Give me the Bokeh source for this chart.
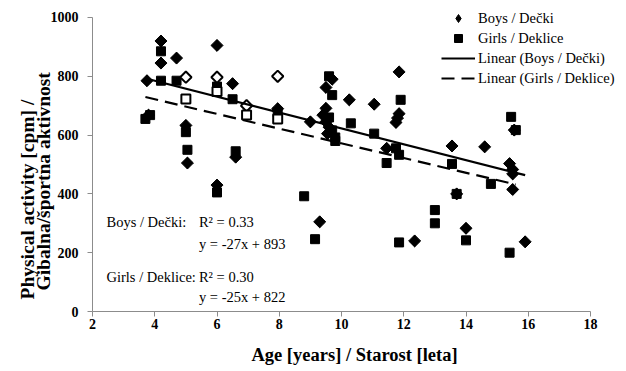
import numpy as np
from bokeh.plotting import figure
from bokeh.models import Legend, LegendItem, Label, FixedTicker, Range1d, Title
from bokeh.embed import file_html
from bokeh.resources import INLINE

# ---- data ----
boys_age = [3.75, 3.8, 4.2, 4.2, 4.7, 5.0, 5.05, 6.0, 6.0, 6.5, 6.6, 7.95, 9.0, 9.3,
            9.5, 9.7, 9.5, 9.4, 9.5, 9.6, 9.55, 10.25, 11.05, 11.45, 11.85, 11.85,
            11.8, 11.75, 12.35, 13.55, 13.7, 14.0, 14.6, 15.4, 15.5, 15.5, 15.5,
            15.9, 15.55]
boys_pa = [785, 668, 920, 845, 862, 633, 505, 905, 430, 775, 525, 690, 645, 305,
           762, 790, 691, 668, 645, 627, 605, 720, 705, 555, 815, 673,
           658, 643, 240, 563, 400, 283, 560, 503, 483, 468, 415,
           237, 617]

girls_age = [3.7, 3.85, 4.2, 4.2, 4.7, 5.0, 5.05, 6.0, 6.0, 6.5, 6.6, 7.95, 8.8, 9.15,
             9.6, 9.7, 9.6, 9.7, 9.8, 9.8, 10.3, 11.05, 11.45, 11.75, 11.9, 11.85,
             11.85, 13.0, 13.0, 13.55, 13.7, 14.0, 14.8, 15.4, 15.45, 15.6]
girls_pa = [655, 668, 885, 785, 785, 610, 550, 765, 405, 722, 545, 678, 392, 246,
            800, 736, 660, 616, 592, 580, 640, 605, 505, 555, 720, 533,
            235, 345, 300, 502, 400, 242, 434, 200, 662, 617]

other_boys_age = [5.0, 6.0, 6.95, 7.95]
other_boys_pa = [797, 797, 700, 800]
other_girls_age = [5.0, 6.0, 6.95, 7.95]
other_girls_pa = [723, 748, 668, 655]

boys_slope, boys_intercept, boys_r2 = -27, 893, 0.33
girls_slope, girls_intercept, girls_r2 = -25, 822, 0.30

x_ticks = [2, 4, 6, 8, 10, 12, 14, 16, 18]
y_ticks = [0, 200, 400, 600, 800, 1000]

FONT = "Liberation Serif"

# frame extended past the axes (axes bounded) so the legend can sit over the corner
p = figure(frame_width=524, frame_height=303,
           x_range=Range1d(2, 18.835), y_range=Range1d(0, 1030.6),
           output_backend="svg", toolbar_location=None,
           min_border_left=92, min_border_right=0, min_border_top=8, min_border_bottom=53)
p.outline_line_color = None
p.xgrid.visible = False
p.ygrid.visible = False
p.background_fill_color = "white"
p.border_fill_color = "white"

for ax, ticks in ((p.xaxis, x_ticks), (p.yaxis, y_ticks)):
    ax.ticker = FixedTicker(ticks=ticks)
    ax.bounds = (ticks[0], ticks[-1])
    ax.axis_line_color = "#8c8c8c"
    ax.major_tick_line_color = "#8c8c8c"
    ax.major_tick_in = 0
    ax.major_tick_out = 5
    ax.minor_tick_line_color = None
    ax.major_label_text_font = FONT
    ax.major_label_text_font_style = "bold"
    ax.major_label_text_font_size = "14px"
    ax.major_label_text_color = "black"
    ax.axis_label_text_font = FONT
    ax.axis_label_text_font_style = "bold"
    ax.axis_label_text_font_size = "18.5px"
    ax.axis_label_text_color = "black"

p.xaxis.axis_label = "Age [years] / Starost [leta]"
p.xaxis.major_label_standoff = 2
p.xaxis.axis_label_standoff = 13
p.yaxis.major_label_standoff = 9

# two-line y-axis title (inner line first, outer line second)
for txt, off, so in (("Gibalna/športna  aktivnost", 21, -13), ("Physical activity [cpm] /", 12, 0)):
    p.add_layout(Title(text=txt, align="left", offset=off, standoff=so,
                       text_font=FONT, text_font_size="19.5px", text_font_style="bold",
                       text_color="black"), "left")

# Bokeh's own diamond marker for the boys (drives the legend swatch),
# overdrawn by a wider 45-degree square that matches the picture's diamonds
boys_key = p.scatter(boys_age, boys_pa, marker="diamond", size=11,
                     fill_color="black", line_color="black")
boys_r = p.scatter(boys_age, boys_pa, marker="square", angle=np.pi / 4, size=8.5,
                   fill_color="black", line_color="black")
girls_r = p.scatter(girls_age, girls_pa, marker="square", size=9,
                    fill_color="black", line_color="black")
p.scatter(other_boys_age, other_boys_pa, marker="square", angle=np.pi / 4, size=8,
          fill_color="white", line_color="black", line_width=2)
p.scatter(other_girls_age, other_girls_pa, marker="square", size=9,
          fill_color="white", line_color="black", line_width=2)

# trend lines
bx = np.array([min(boys_age), max(boys_age)])
gx = np.array([min(girls_age), max(girls_age)])
boys_line = p.line(bx, boys_slope * bx + boys_intercept, line_color="black", line_width=2.2)
girls_line = p.line(gx, girls_slope * gx + girls_intercept, line_color="black",
                    line_width=2.2, line_dash="13 7")

legend = Legend(items=[
    LegendItem(label="Boys / Dečki", renderers=[boys_key]),
    LegendItem(label="Girls / Deklice", renderers=[girls_r]),
    LegendItem(label="Linear (Boys / Dečki)", renderers=[boys_line]),
    LegendItem(label="Linear (Girls / Deklice)", renderers=[girls_line]),
], location=(349, 223))
legend.border_line_color = None
legend.background_fill_alpha = 0
legend.padding = 0
legend.margin = 0
legend.spacing = 0
legend.glyph_width = 34
legend.glyph_height = 20
legend.label_height = 20
legend.label_standoff = 3
legend.label_text_font = FONT
legend.label_text_font_size = "14.5px"
legend.label_text_color = "black"
p.add_layout(legend)

def lab(x, y, t):
    p.add_layout(Label(x=x, y=y, text=t, text_font=FONT, text_font_size="14.5px",
                       text_baseline="middle", text_color="black"))

lab(2.45, 303, "Boys / Dečki:")
lab(5.42, 303, f"R² = {boys_r2:.2f}")
lab(5.42, 228, f"y = {boys_slope}x + {boys_intercept}")
lab(2.45, 119, "Girls / Deklice:")
lab(5.42, 119, f"R² = {girls_r2:.2f}")
lab(5.42, 51, f"y = {girls_slope}x + {girls_intercept}")

open("out.html", "w").write(file_html(p, INLINE))
